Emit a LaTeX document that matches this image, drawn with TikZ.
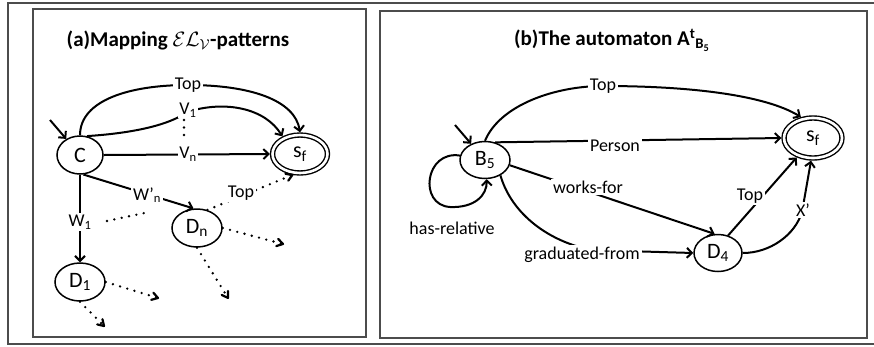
\documentclass[tikz,border=0pt]{standalone}
\usepackage{fontspec}
\setmainfont{Carlito}
\usetikzlibrary{arrows.meta,shapes.geometric,calc}
\newcommand\mydotarrow[2]{%
  \draw[dot] (#1) -- (#2);
  \draw[tipl] ($(#2)!7pt!32:(#1)$) -- (#2) -- ($(#2)!7pt!-32:(#1)$);}
\begin{document}
\begin{tikzpicture}[x=1pt,y=-1pt,
  every node/.style={font=\fontsize{18}{20}\selectfont, inner sep=1pt},
  st/.style={draw, ellipse, line width=1.5pt, inner sep=0pt, font=\fontsize{22}{24}\selectfont},
  fin/.style={st, line width=1.4pt, double, double distance=2.6pt, outer sep=2.7pt},
  ln/.style={line width=2pt},
  arr/.style={ln, -{Straight Barb[length=5pt,width=10pt,line width=2pt]}},
  dot/.style={line width=2.6pt, line cap=round, dash pattern=on 0pt off 7.5pt},
  tipl/.style={line width=2.2pt, line cap=round, line join=round},
  lbl/.style={fill=white, inner sep=2pt},
  frame/.style={draw=black!70, line width=1.6pt},
  ttl/.style={font=\fontsize{21}{23}\selectfont\bfseries},
]
\useasboundingbox (0,0) rectangle (874,346);
% frames
\draw[frame] (876,3) -- (8,3) -- (8,344) -- (876,344);
\draw[frame] (33,9) rectangle (366,337);
\draw[frame] (380,11) rectangle (867,338);

% ---------- panel (a)
\node[ttl] (ta) at (178,40) {(a)Mapping $\mathcal{EL}_{\mathcal{V}}$-patterns};
\node[st, minimum width=46pt, minimum height=38pt] (C) at (80,155) {C};
\node[fin, minimum width=55pt, minimum height=38pt] (sfa) at (300,154) {s\textsubscript{f}};
\node[st, minimum width=50pt, minimum height=38pt] (Dn) at (197,228) {D\textsubscript{n}};
\node[st, minimum width=50pt, minimum height=38pt] (D1) at (80,282) {D\textsubscript{1}};

\coordinate (iC) at (50,120);
\draw[arr] (iC) -- (C);
\draw[arr] (C.north) .. controls (80,100) and (130,85) .. (188,85) .. controls (250,85) and (295,100) .. (sfa.north);
\node[lbl] (topa) at (188,85) {Top};
\draw[arr] (C.70) .. controls (120,134) and (165,128) .. (187,112) .. controls (225,100) and (265,108) .. (sfa.135);
\node[lbl, inner sep=1pt] (V1) at (188,110) {V\textsubscript{1}};
\draw[arr] (C.east) -- (sfa.west);
\node[lbl, inner sep=1pt] (Vn) at (188,154) {V\textsubscript{n}};
\draw[dot] (184,120) -- (184,140);
\draw[arr] (C.-80) -- (Dn.100);
\node[lbl] (Wpn) at (147,195) {W’\textsubscript{n}};
\draw[arr] (C.south) -- (D1.north);
\node[lbl] (W1) at (80,222) {W\textsubscript{1}};
\draw[dot] (107,221) -- (149,212);
\coordinate (sfab) at (sfa.-110);
\mydotarrow{Dn.60}{sfab}
\node[lbl] (topb) at (241,193) {Top};
\coordinate (dnr) at (283,244);
\coordinate (dnb) at (228,298);
\coordinate (d1r) at (158,298);
\coordinate (d1b) at (104,326);
\mydotarrow{Dn.east}{dnr}
\mydotarrow{Dn.south}{dnb}
\mydotarrow{D1.east}{d1r}
\mydotarrow{D1.south}{d1b}

% ---------- panel (b)
\node[ttl] (tb) at (612,40) {(b)The automaton A\textsuperscript{t}\textsubscript{B\textsubscript{5}}};
\node[st, minimum width=50pt, minimum height=37pt] (B5) at (485,160) {B\textsubscript{5}};
\node[fin, minimum width=58pt, minimum height=40pt] (sfb) at (813,138) {s\textsubscript{f}};
\node[st, minimum width=48pt, minimum height=37pt] (D4) at (718,253) {D\textsubscript{4}};

\coordinate (iB) at (455,125);
\draw[arr] (iB) -- (B5);
\draw[arr] (B5.170) .. controls (425,150) and (418,205) .. (450,207) .. controls (475,208) and (487,195) .. (B5.-85);
\node (hr) at (452,228) {has-relative};
\draw[arr] (B5.north) .. controls (500,105) and (555,86) .. (603,86) .. controls (690,86) and (765,95) .. (sfb.120);
\node[lbl] (topc) at (603,86) {Top};
\draw[arr] (B5.60) -- (sfb.west);
\node[lbl] (per) at (615,146) {Person};
\draw[arr] (B5.-12) -- (D4.100);
\node[lbl] (wf) at (588,187) {works-for};
\draw[arr] (B5.-45) .. controls (512,215) and (550,242) .. (592,250) -- (D4.west);
\node[lbl] (gf) at (582,255) {graduated-from};
\draw[arr] (D4.60) -- (sfb.230);
\node[lbl] (topd) at (750,196) {Top};
\draw[arr] (D4.east) .. controls (770,253) and (795,235) .. (802,212) -- (sfb.-95);
\node[lbl] (xp) at (803,210) {X’};
\end{tikzpicture}
\end{document}
